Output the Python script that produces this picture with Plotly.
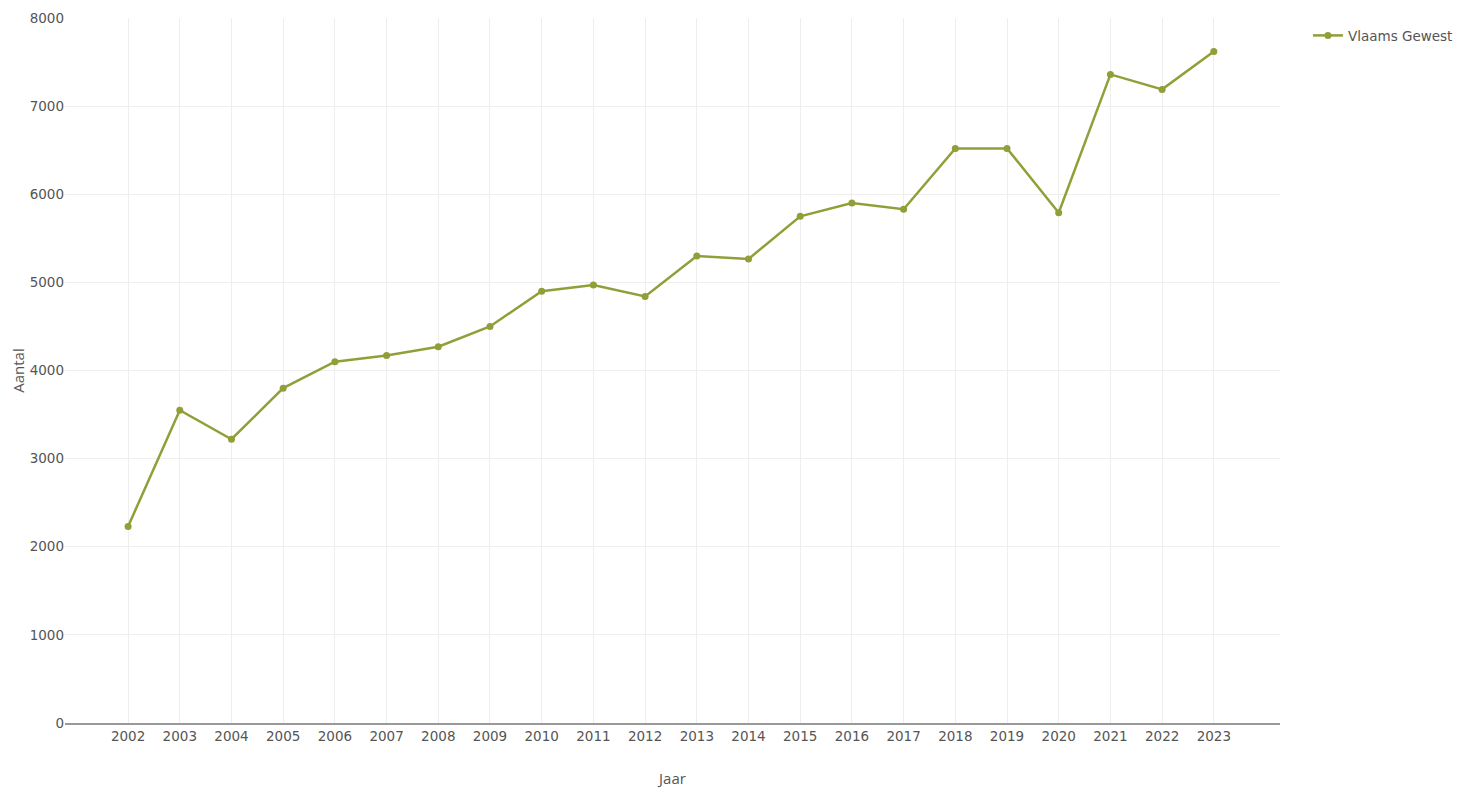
import plotly.graph_objects as go

years = list(range(2002, 2024))
values = [2230, 3550, 3220, 3800, 4100, 4170, 4270, 4500, 4900, 4970, 4840,
          5300, 5265, 5750, 5900, 5830, 6520, 6520, 5790, 7360, 7190, 7620]
series_name = "Vlaams Gewest"
x_title = "Jaar"
y_title = "Aantal"

fig = go.Figure()
fig.add_trace(go.Scatter(
    x=years, y=values, mode="lines+markers", name=series_name,
    line=dict(color="#929f38", width=2.5),
    marker=dict(color="#929f38", size=7),
))

fig.update_layout(
    width=1473, height=788,
    margin=dict(l=57, r=201, t=10, b=73),
    plot_bgcolor="white", paper_bgcolor="white",
    font=dict(family="DejaVu Sans", size=13.5, color="#555555"),
    showlegend=True,
    legend=dict(x=1.023, y=0.997, xanchor="left", yanchor="top",
                font=dict(family="DejaVu Sans", size=13.5, color="#555555")),
)
fig.update_xaxes(
    title=dict(text=x_title, font=dict(family="Open Sans", size=15, color="#555555"), standoff=30),
    tickmode="array", tickvals=years, ticktext=[str(y) for y in years],
    range=[2000.78, 2024.28],
    showgrid=True, gridcolor="#eeeeee", gridwidth=1,
    showline=True, linecolor="#999999", linewidth=2,
    zeroline=False, ticks="", automargin=False,
)
fig.update_yaxes(
    title=dict(text=y_title, font=dict(family="Open Sans", size=15, color="#555555"), standoff=10),
    range=[0, 8000], dtick=1000,
    showgrid=True, gridcolor="#eeeeee", gridwidth=1,
    showline=False, zeroline=False, ticks="", automargin=False,
)

fig.write_html("out.html")
